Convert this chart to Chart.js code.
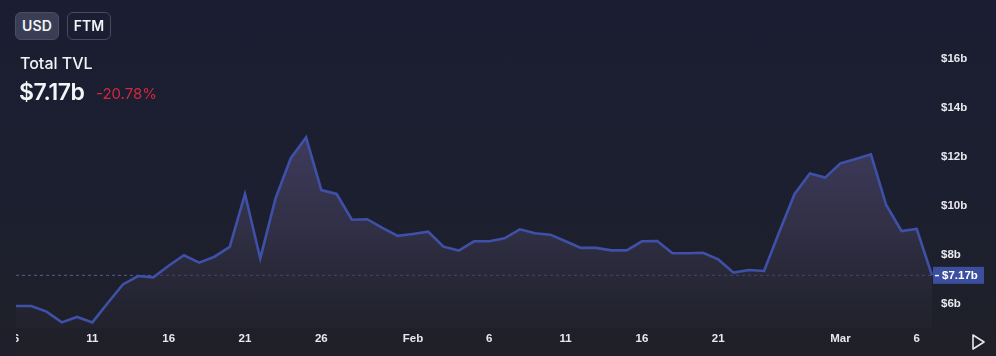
<!DOCTYPE html>
<html>
<head>
<meta charset="utf-8">
<script src="https://cdn.jsdelivr.net/npm/chart.js@4.4.1/dist/chart.umd.min.js"></script>
<style>
  html, body { margin: 0; padding: 0; }
  body {
    width: 996px; height: 356px; overflow: hidden; position: relative;
    background: linear-gradient(to bottom, #1b1e32 0%, #1c1f2f 55%, #1f2028 100%);
    font-family: Inter, "Noto Sans", sans-serif;
  }
  #wrap { position: absolute; left: 0; top: 0; width: 996px; height: 356px; }
  .btn {
    position: absolute; top: 12px; height: 28px; box-sizing: border-box;
    border-radius: 6px; color: #f2f3f7; font-size: 14px; font-weight: 600;
    line-height: 26px; text-align: center; letter-spacing: 0.1px;
  }
  #usd { left: 15px; width: 44px; background: #393e54; border: 1px solid #4a4f66; }
  #ftm { left: 67px; width: 44px; background: transparent; border: 1px solid #474b61; }
  #title { position: absolute; left: 20px; top: 53px; color: #f2f3f7; font-size: 16px; font-weight: 500; }
  #value { position: absolute; left: 19px; top: 78px; color: #f4f5f8; font-size: 23px; font-weight: 600; letter-spacing: -0.4px; }
  #change { position: absolute; left: 96px; top: 84px; color: #d4283b; font-size: 15px; font-weight: 400; }
  #play { position: absolute; left: 971px; top: 333px; }
</style>
</head>
<body>
<div id="wrap"><canvas id="c" width="996" height="356"></canvas></div>
<div class="btn" id="usd">USD</div>
<div class="btn" id="ftm">FTM</div>
<div id="title">Total TVL</div>
<div id="value">$7.17b</div>
<div id="change">-20.78%</div>
<svg id="play" width="16" height="18" viewBox="0 0 16 18"><polygon points="2,2 13,9 2,16" fill="none" stroke="#e6e7ec" stroke-width="1.6" stroke-linejoin="round"/></svg>
<script>
// ---- data ----
const categories = [
  "2022-01-06","2022-01-07","2022-01-08","2022-01-09","2022-01-10","2022-01-11","2022-01-12","2022-01-13",
  "2022-01-14","2022-01-15","2022-01-16","2022-01-17","2022-01-18","2022-01-19","2022-01-20","2022-01-21",
  "2022-01-22","2022-01-23","2022-01-24","2022-01-25","2022-01-26","2022-01-27","2022-01-28","2022-01-29",
  "2022-01-30","2022-01-31","2022-02-01","2022-02-02","2022-02-03","2022-02-04","2022-02-05","2022-02-06",
  "2022-02-07","2022-02-08","2022-02-09","2022-02-10","2022-02-11","2022-02-12","2022-02-13","2022-02-14",
  "2022-02-15","2022-02-16","2022-02-17","2022-02-18","2022-02-19","2022-02-20","2022-02-21","2022-02-22",
  "2022-02-23","2022-02-24","2022-02-25","2022-02-26","2022-02-27","2022-02-28","2022-03-01","2022-03-02",
  "2022-03-03","2022-03-04","2022-03-05","2022-03-06","2022-03-07"
];
const tvlBillions = [
  5.92, 5.92, 5.69, 5.25, 5.47, 5.25, 6.03, 6.80,
  7.14, 7.09, 7.56, 7.99, 7.69, 7.93, 8.33, 10.49,
  7.86, 10.31, 11.95, 12.80, 10.65, 10.49, 9.44, 9.46,
  9.11, 8.78, 8.86, 8.95, 8.34, 8.18, 8.56, 8.56,
  8.68, 9.05, 8.89, 8.83, 8.56, 8.29, 8.29, 8.19,
  8.19, 8.56, 8.57, 8.07, 8.07, 8.09, 7.82, 7.28,
  7.39, 7.35, 8.95, 10.49, 11.33, 11.16, 11.74, 11.92,
  12.11, 10.04, 8.98, 9.06, 7.17
];
const currentValue = 7.17;
const tickDates = ["2022-01-06","2022-01-11","2022-01-16","2022-01-21","2022-01-26","2022-02-01",
                   "2022-02-06","2022-02-11","2022-02-16","2022-02-21","2022-03-01","2022-03-06"];
const tickTexts = ["6","11","16","21","26","Feb","6","11","16","21","Mar","6"];
const yTicks = [6, 8, 10, 12, 14, 16];
const currentLine = categories.map(() => currentValue);

const ctx = document.getElementById('c').getContext('2d');
const fillGrad = ctx.createLinearGradient(0, 130, 0, 330);
fillGrad.addColorStop(0, 'rgba(70,66,104,0.85)');
fillGrad.addColorStop(0.5, 'rgba(58,55,80,0.7)');
fillGrad.addColorStop(1, 'rgba(40,40,52,0.35)');

const priceLabel = {
  id: 'priceLabel',
  afterDraw(chart) {
    const c = chart.ctx, y = chart.scales.y.getPixelForValue(currentValue);
    const x0 = chart.chartArea.right;
    // hide left part of first x label (clipped in reference)
    c.save();
    c.fillStyle = '#1e1f2a';
    c.fillRect(0, chart.chartArea.bottom + 1, chart.chartArea.left, 30);
    c.fillStyle = '#3c4e9e';
    c.fillRect(x0 + 1, y - 8.5, 51, 17);
    c.fillStyle = '#ffffff';
    c.fillRect(x0 + 3, y - 0.5, 4, 1.5);
    c.font = '600 11.5px "Liberation Sans", Roboto, sans-serif';
    c.textBaseline = 'middle';
    c.textAlign = 'left';
    c.fillText('$' + currentValue.toFixed(2) + 'b', x0 + 10, y + 0.5);
    c.restore();
  }
};

new Chart(ctx, {
  type: 'line',
  data: {
    labels: categories,
    datasets: [
      {
        data: tvlBillions,
        borderColor: '#3f50a9',
        borderWidth: 2.6,
        backgroundColor: fillGrad,
        fill: 'start',
        pointRadius: 0,
        tension: 0,
        borderJoinStyle: 'miter'
      },
      {
        data: currentLine,
        borderColor: 'rgba(100,100,190,0.85)',
        borderWidth: 1,
        borderDash: [3, 3],
        pointRadius: 0,
        fill: false
      }
    ]
  },
  options: {
    responsive: false,
    animation: false,
    events: [],
    layout: { padding: { left: 16, top: 34.5, right: 0, bottom: 0 } },
    plugins: { legend: { display: false }, tooltip: { enabled: false } },
    scales: {
      x: {
        type: 'category',
        offset: false,
        grid: { display: false, drawTicks: false },
        border: { display: false },
        afterFit(s) { s.height = 27.5; },
        ticks: {
          autoSkip: false, maxRotation: 0, padding: 3,
          color: '#e8e9ee',
          font: { family: '"Liberation Sans", Roboto, sans-serif', size: 11.5, weight: '600' },
          callback(v, i) {
            const k = tickDates.indexOf(categories[i]);
            return k >= 0 ? tickTexts[k] : '';
          }
        }
      },
      y: {
        position: 'right',
        min: 5, max: 17,
        grid: { display: false, drawTicks: false },
        border: { display: false },
        afterFit(s) { s.width = 64; },
        afterBuildTicks(s) { s.ticks = yTicks.map(v => ({ value: v })); },
        ticks: {
          padding: 9,
          color: '#e8e9ee',
          font: { family: '"Liberation Sans", Roboto, sans-serif', size: 11.5, weight: '600' },
          callback(v) { return '$' + v + 'b'; }
        }
      }
    }
  },
  plugins: [priceLabel]
});
</script>
</body>
</html>
